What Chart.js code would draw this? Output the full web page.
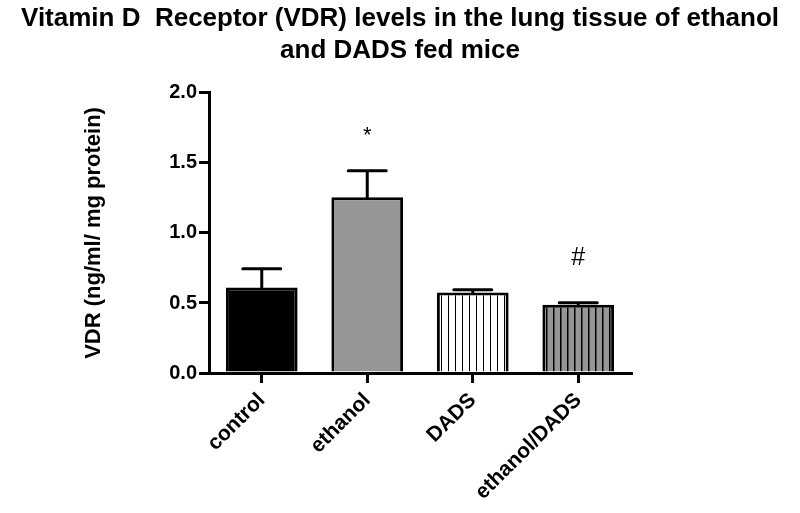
<!DOCTYPE html>
<html>
<head>
<meta charset="utf-8">
<script src="https://cdn.jsdelivr.net/npm/chart.js@4.4.1/dist/chart.umd.min.js"></script>
<style>
  html, body { margin: 0; padding: 0; background: #fff; }
  #wrap { width: 800px; height: 513px; position: relative; }
</style>
</head>
<body>
<div id="wrap"><canvas id="chart"></canvas></div>
<script>
// ── DATA ──────────────────────────────────────────────────────
const categories = ['control', 'ethanol', 'DADS', 'ethanol/DADS'];
const means      = [0.61, 1.255, 0.575, 0.487];
const sems       = [0.135, 0.19, 0.02, 0.015];
const marks      = ['', '*', '', '#'];
const markValues = [null, 1.65, null, 0.77];
const yTicks     = [0, 0.5, 1.0, 1.5, 2.0];

const FONT = "'Liberation Sans', Arial, sans-serif";
const GREY = '#969696';

// ── HATCH PATTERNS ────────────────────────────────────────────
function stripes(bg, lineW) {
  const c = document.createElement('canvas');
  c.width = 7; c.height = 10;
  const g = c.getContext('2d');
  g.fillStyle = bg;
  g.fillRect(0, 0, 7, 10);
  g.fillStyle = '#000';
  g.fillRect(0, 0, lineW, 10);
  return g.createPattern(c, 'repeat');
}
const ctx = document.getElementById('chart').getContext('2d');
const fills = ['#000000', GREY, stripes('#ffffff', 1), stripes(GREY, 1.5)];

// ── ERROR BARS + SIGNIFICANCE MARKS ───────────────────────────
const errorBars = {
  id: 'errorBars',
  afterDatasetsDraw(chart) {
    const meta = chart.getDatasetMeta(0);
    const y = chart.scales.y;
    const c = chart.ctx;
    c.save();
    c.strokeStyle = '#000';
    c.lineWidth = 3;
    c.lineCap = 'round';
    meta.data.forEach((bar, i) => {
      const yTop = y.getPixelForValue(means[i] + sems[i]);
      const yBar = y.getPixelForValue(means[i]);
      c.beginPath();
      c.moveTo(bar.x, yBar);
      c.lineTo(bar.x, yTop);
      c.moveTo(bar.x - 19, yTop);
      c.lineTo(bar.x + 19, yTop);
      c.stroke();
      if (marks[i]) {
        c.fillStyle = '#000';
        c.textAlign = 'center';
        c.textBaseline = 'alphabetic';
        c.font = (marks[i] === '#' ? '25px ' : '22px ') + FONT;
        c.fillText(marks[i], bar.x, y.getPixelForValue(markValues[i]));
      }
    });
    c.restore();
  },
};

new Chart(ctx, {
  type: 'bar',
  data: {
    labels: categories,
    datasets: [{
      data: means,
      backgroundColor: fills,
      borderColor: '#000',
      borderWidth: 3,
      barPercentage: 0.68,
      categoryPercentage: 1,
    }],
  },
  options: {
    responsive: true,
    maintainAspectRatio: false,
    animation: false,
    layout: { padding: 0 },
    plugins: {
      legend: { display: false },
      tooltip: { enabled: false },
      title: {
        display: true,
        text: ['Vitamin D  Receptor (VDR) levels in the lung tissue of ethanol', 'and DADS fed mice'],
        color: '#000',
        font: { family: FONT, size: 26, weight: 'bold', lineHeight: 1.23 },
        padding: { top: 3, bottom: 26 },
      },
    },
    scales: {
      x: {
        grid: { display: true, drawOnChartArea: false, offset: false, color: '#000', tickColor: '#000', lineWidth: 3, tickLength: 10 },
        border: { display: true, color: '#000', width: 3 },
        ticks: {
          color: '#000',
          font: { family: FONT, size: 21, weight: 'bold' },
          minRotation: 45, maxRotation: 45,
          padding: 5,
        },
        afterFit(scale) { scale.height = 140; },
      },
      y: {
        min: 0, max: 2,
        afterBuildTicks(scale) { scale.ticks = yTicks.map(v => ({ value: v })); },
        grid: { display: true, drawOnChartArea: false, color: '#000', tickColor: '#000', lineWidth: 3, tickLength: 10 },
        border: { display: true, color: '#000', width: 3 },
        ticks: {
          color: '#000',
          font: { family: FONT, size: 20, weight: 'bold' },
          padding: 2,
          callback: v => Number(v).toFixed(1),
        },
        title: {
          display: true,
          text: 'VDR (ng/ml/ mg protein)',
          color: '#000',
          font: { family: FONT, size: 22, weight: 'bold' },
          padding: { top: 81, bottom: 0 },
        },
        afterFit(scale) { scale.width = 209; },
      },
      // spacer on the right so the plot ends where the reference does
      yRight: {
        position: 'right',
        display: true,
        grid: { display: false },
        border: { display: false },
        ticks: { display: false },
        afterFit(scale) { scale.width = 169; },
      },
    },
  },
  plugins: [errorBars],
});
</script>
</body>
</html>
